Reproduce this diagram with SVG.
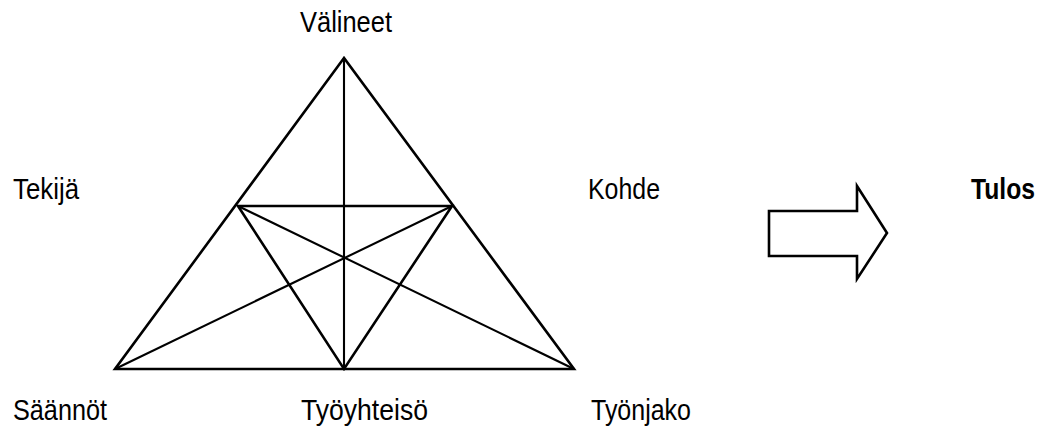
<svg xmlns="http://www.w3.org/2000/svg" width="1043" height="427" viewBox="0 0 1043 427">
<style>
.t{font-family:"Liberation Sans",Arial,sans-serif;font-size:30px;fill:#000}
.b{font-weight:bold}
.ln{stroke:#000;stroke-width:2.6;fill:none;stroke-linejoin:miter}
.thin{stroke:#000;stroke-width:2.1;fill:none}
</style>
<rect width="1043" height="427" fill="#fff"/>
<g id="connectors">
<polygon class="ln" points="344,58 115,369 574,369"/>
<polygon class="ln" points="238,206 452,206 344,369"/>
<line class="thin" x1="344" y1="58" x2="344" y2="369"/>
<line class="thin" x1="115" y1="369" x2="452" y2="206"/>
<line class="thin" x1="574" y1="369" x2="238" y2="206"/>
</g>
<g id="arrow">
<polygon class="ln" points="769,211 857,211 857,186 887,233 857,279 857,256 769,256"/>
</g>
<g id="valineet"><text class="t" x="300" y="32" textLength="92" lengthAdjust="spacingAndGlyphs">Välineet</text></g>
<g id="tekija"><text class="t" x="13" y="199" textLength="66" lengthAdjust="spacingAndGlyphs">Tekijä</text></g>
<g id="kohde"><text class="t" x="588" y="199" textLength="72" lengthAdjust="spacingAndGlyphs">Kohde</text></g>
<g id="tulos"><text class="t b" x="971" y="199" textLength="64" lengthAdjust="spacingAndGlyphs">Tulos</text></g>
<g id="saannot"><text class="t" x="13" y="420" textLength="94" lengthAdjust="spacingAndGlyphs">Säännöt</text></g>
<g id="tyoyhteiso"><text class="t" x="301" y="420" textLength="127" lengthAdjust="spacingAndGlyphs">Työyhteisö</text></g>
<g id="tyonjako"><text class="t" x="591" y="420" textLength="100" lengthAdjust="spacingAndGlyphs">Työnjako</text></g>
</svg>
